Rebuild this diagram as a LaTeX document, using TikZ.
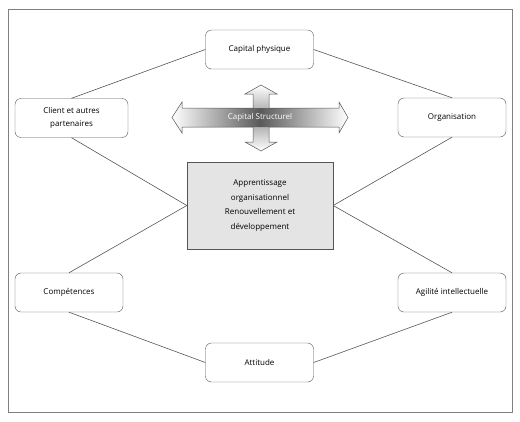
\documentclass[tikz,border=0pt]{standalone}
\usepackage{fontspec}
\setmainfont{Open Sans}
\usepackage{xcolor}
\usetikzlibrary{arrows.meta}

\definecolor{linegray}{HTML}{555555}
\definecolor{boxfill}{HTML}{E4E4E4}

\tikzset{
  capbox/.style={draw=linegray, rounded corners=6pt, fill=white,
    minimum width=108pt, minimum height=39pt, align=center,
    font=\fontsize{8}{12.5}\selectfont},
  midbox/.style={draw=linegray, fill=boxfill,
    minimum width=146pt, minimum height=87pt, align=center,
    font=\fontsize{8}{14.5}\selectfont},
  link/.style={draw=linegray, line width=0.6pt}
}

\begin{document}
\begin{tikzpicture}[x=1pt,y=-1pt]
\useasboundingbox (0,0) rectangle (520,421);
\draw[gray, line width=0.9pt] (8,9) rectangle (512,412);

\node[capbox] (phys) at (259.5,49.5) {Capital physique};
\node[capbox, minimum width=113pt] (client) at (71.5,118) {Client et autres\\partenaires};
\node[capbox] (orga) at (452,117.5) {Organisation};
\node[capbox] (comp) at (69,292.5) {Compétences};
\node[capbox] (agil) at (452,292.5) {Agilité intellectuelle};
\node[capbox] (att) at (259.5,362.5) {Attitude};
\node[midbox] (learn) at (260,205.5) {Apprentissage\\organisationnel\\Renouvellement et\\développement};

\draw[link] (phys.west) -- (client.north);
\draw[link] (client.south) -- (learn.west);
\draw[link] (orga.north) -- (phys.east);
\draw[link] (orga.south) -- (learn.east);
\draw[link] (comp.north) -- (learn.west);
\draw[link] (comp.south) -- (att.west);
\draw[link] (agil.north) -- (learn.east);
\draw[link] (agil.south) -- (att.east);

\shade[top color=white, bottom color=white, middle color=gray!80]
  (253,94) -- (245,94) -- (261,85) -- (277,94) -- (269,94) -- (269,142)
  -- (277,142) -- (261,151) -- (245,142) -- (253,142) -- cycle;
\shade[left color=white, right color=white, middle color=gray!70!black]
  (172,117.5) -- (182,102) -- (182,108) -- (339,108) -- (339,102) -- (348,117.5)
  -- (339,133) -- (339,127) -- (182,127) -- (182,133) -- cycle;
\draw[linegray, line width=0.5pt]
  (172,117.5) -- (182,102) -- (182,108) -- (253,108) -- (253,94) -- (245,94)
  -- (261,85) -- (277,94) -- (269,94) -- (269,108) -- (339,108) -- (339,102)
  -- (348,117.5) -- (339,133) -- (339,127) -- (269,127) -- (269,142) -- (277,142)
  -- (261,151) -- (245,142) -- (253,142) -- (253,127) -- (182,127) -- (182,133) -- cycle;
\node[white, font=\fontsize{8}{9}\selectfont] (struct) at (260,117.5) {Capital Structurel};
\end{tikzpicture}
\end{document}
